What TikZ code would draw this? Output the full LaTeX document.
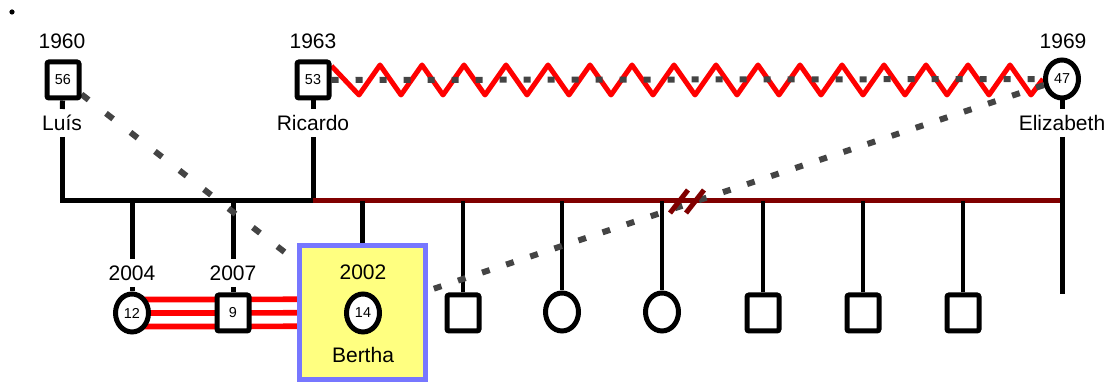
\documentclass[tikz,border=0pt]{standalone}
\usepackage{fontspec}
\setmainfont{Liberation Sans}
\usetikzlibrary{shapes.geometric, backgrounds}
\definecolor{maroon}{HTML}{800000}
\definecolor{dashgray}{HTML}{444444}
\definecolor{boxblue}{HTML}{7777FF}
\definecolor{boxyellow}{HTML}{FFFF80}
\tikzstyle{male} = [rectangle, rounded corners=1pt, minimum width=16pt, minimum height=18pt, inner sep=0pt, draw=black, line width=2.5pt, fill=white, font=\fontsize{7.2}{8}\selectfont]
\tikzstyle{female} = [ellipse, minimum width=16.5pt, minimum height=19pt, inner sep=0pt, draw=black, line width=2.5pt, fill=white, font=\fontsize{7.2}{8}\selectfont]
\tikzstyle{yearlabel} = [font=\fontsize{10.5}{12}\selectfont, text height=7.6pt, text depth=0pt, inner xsep=1pt, inner ysep=3pt]
\tikzstyle{pname} = [font=\fontsize{10.5}{12}\selectfont, text height=7.6pt, text depth=0pt, inner xsep=1pt, inner ysep=3pt]
\tikzstyle{bond} = [line width=2.5pt]
\tikzstyle{childbond} = [line width=2pt]
\tikzstyle{relation} = [dashgray, line width=3pt]

\begin{document}
\begin{tikzpicture}[x=0.5pt, y=-0.5pt]
	\useasboundingbox (0,0) rectangle (1109,383);
	\fill (12,12) circle (1.3pt);

	% parents
	\node (luis) at (63,80) [male] {56};
	\node (luisyr) at (62,41) [yearlabel] {1960};
	\node (luisname) at (62,123) [pname] {Luís};
	\node (ricardo) at (313,80) [male] {53};
	\node (ricardoyr) at (313,41) [yearlabel] {1963};
	\node (ricardoname) at (313,123) [pname] {Ricardo};
	\node (eliz) at (1062,79) [female] {47};
	\node (elizyr) at (1063,41) [yearlabel] {1969};
	\node (elizname) at (1062,123) [pname] {Elizabeth};

	\coordinate (sibL) at (62,201);
	\coordinate (sibR) at (313,201);
	\coordinate (sibE) at (1062,201);
	\coordinate (elizend) at (1062,294);
	\coordinate (brk) at (687,201);

	% half siblings
	\node (yr2004) at (132,273) [yearlabel] {2004};
	\node (half1) at (132,313) [female] {12};
	\node (yr2007) at (233,273) [yearlabel] {2007};
	\node (half2) at (233,313) [male] {9};

	% index person
	\node (berthabox) at (362.5,312.5) [rectangle, draw=boxblue, fill=boxyellow, line width=2.5pt, minimum width=63pt, minimum height=67pt] {};
	\node (berthayr) at (363,272) [yearlabel] {2002};
	\node (bertha) at (363,313) [female] {14};
	\node (berthaname) at (363,355) [pname] {Bertha};

	% full siblings
	\node (ch1) at (463,313) [male] {};
	\node (ch2) at (562,312) [female] {};
	\node (ch3) at (662,312) [female] {};
	\node (ch4) at (763,313) [male] {};
	\node (ch5) at (863,313) [male] {};
	\node (ch6) at (963,313) [male] {};

	\begin{pgfonlayer}{background}
		\draw [bond] (luis) -- (luisname);
		\draw [bond] (ricardo) -- (ricardoname);
		\draw [bond] (eliz) -- (elizname);
		\draw [bond] (luisname) -- (sibL) -- (sibR) -- (ricardoname);
		\draw [bond, maroon] (sibR) -- (sibE);
		\draw [bond] (elizname) -- (elizend);

		\draw [bond] (yr2004 |- sibL) -- (yr2004);
		\draw [bond] (yr2004) -- (half1);
		\draw [bond] (yr2007 |- sibL) -- (yr2007);
		\draw [bond] (yr2007) -- (half2);
		\draw [bond] (berthabox |- sibR) -- (berthabox);
		\foreach \c in {ch1,ch2,ch3,ch4,ch5,ch6}
			\draw [childbond] (\c |- sibR) -- (\c);

		% twins-like triple link
		\foreach \d in {-13.5,0,13.5}
			\draw [red, line width=2.8pt] ([yshift=\d*0.5pt]half1.center) -- ([yshift=\d*0.5pt]half2.center) -- ([yshift=\d*0.5pt]berthabox.center);

		% hostile relation
		\draw [red, line width=2.5pt, line join=round] ([yshift=7pt]ricardo.east)
			\foreach \k in {0,...,15} { -- (359+42*\k,95) -- (380+42*\k,65) } -- (1031,95) -- (eliz.west);
		\draw [relation, dash pattern=on 3.5pt off 8.5pt] (ricardo) -- (eliz);

		\draw [relation, dash pattern=on 4.5pt off 11pt] (luis) -- (berthabox);
		\draw [relation, dash pattern=on 4pt off 8.7pt] (eliz) -- (berthabox);
	\end{pgfonlayer}

	% break marks
	\draw [maroon, line width=2.5pt] ([shift={(-17,12)}]brk) -- ++(18,-23);
	\draw [maroon, line width=2.5pt] ([shift={(-1,12)}]brk) -- ++(18,-23);

\end{tikzpicture}
\end{document}
